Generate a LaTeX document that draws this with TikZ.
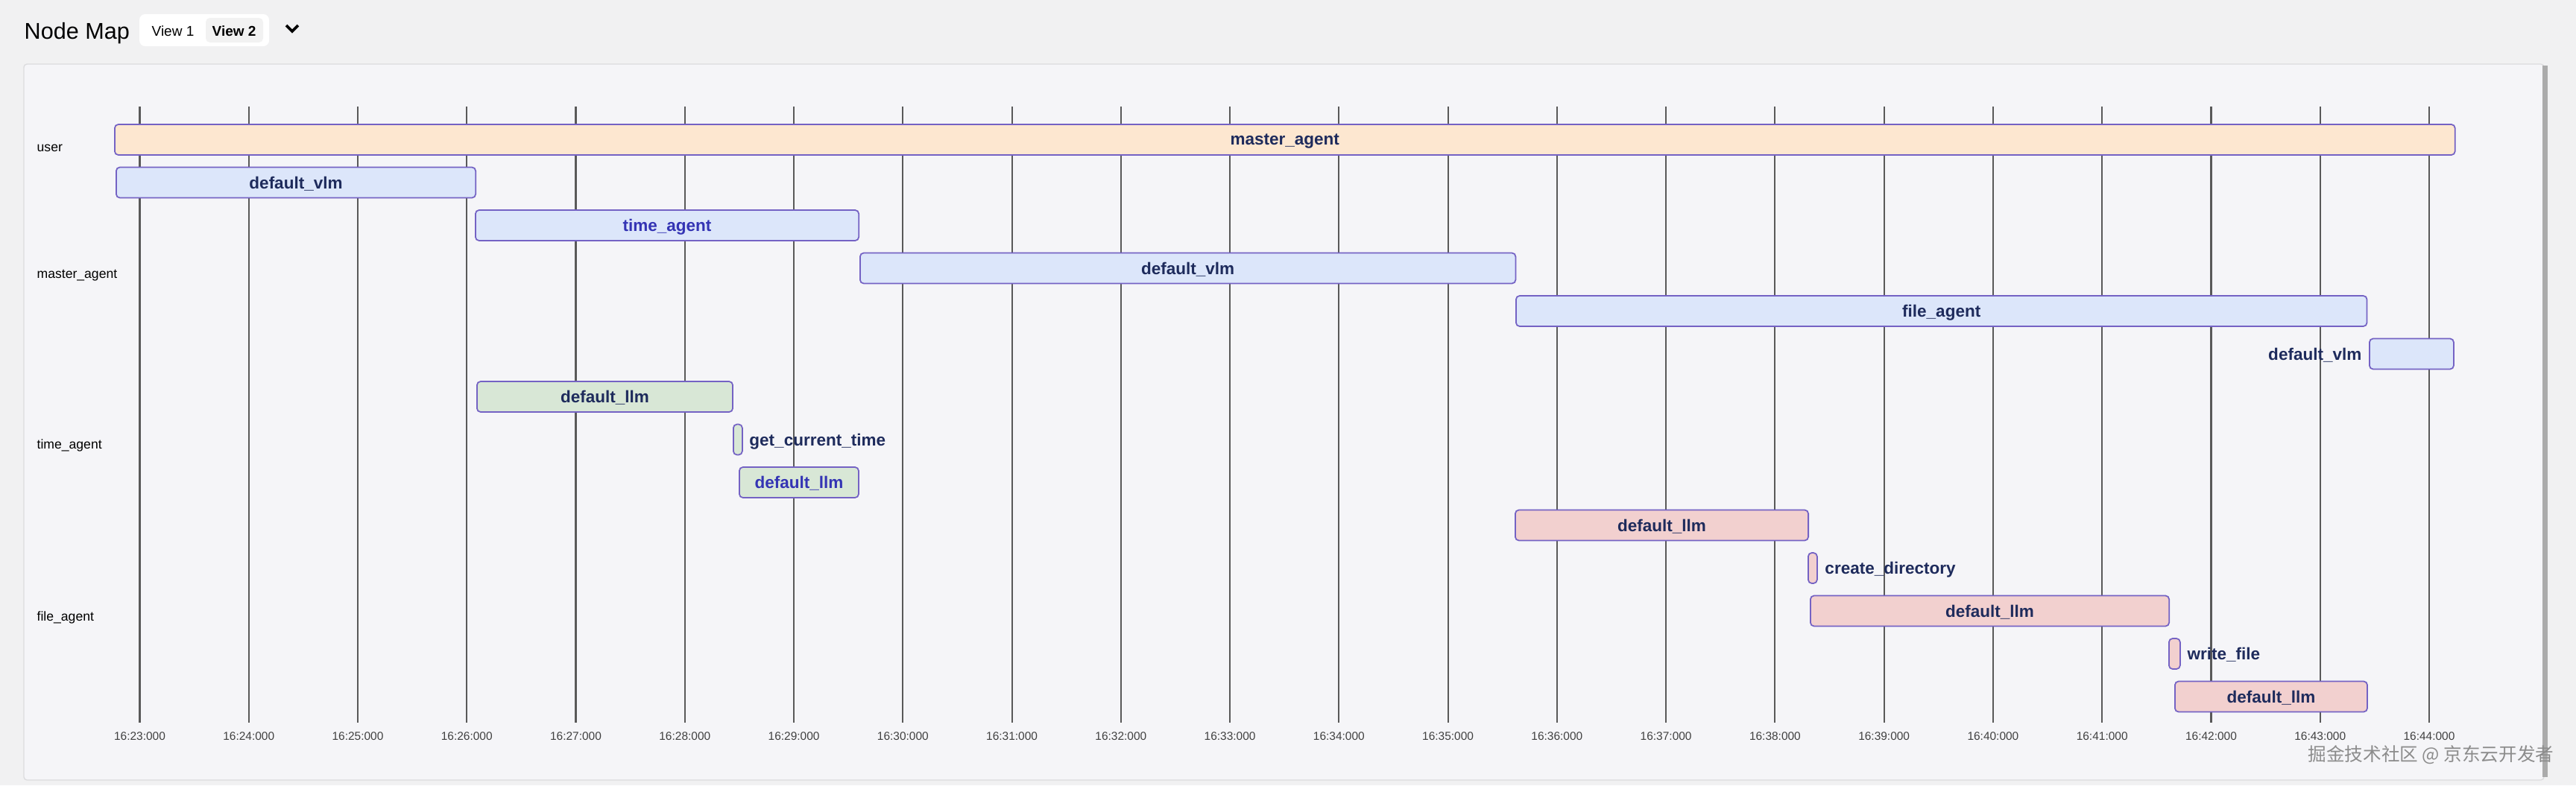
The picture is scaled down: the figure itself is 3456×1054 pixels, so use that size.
\documentclass[tikz,border=0pt]{standalone}
\usepackage{fontspec}
\setmainfont{Liberation Sans}
\newfontfamily\cjkfont{Noto Sans CJK SC}
\usetikzlibrary{positioning}

\definecolor{pagebg}{HTML}{F1F1F2}
\definecolor{panelbg}{HTML}{F5F5F8}
\definecolor{panelline}{HTML}{DCDCDE}
\definecolor{barline}{HTML}{7462C4}
\definecolor{navytext}{HTML}{1E2B5C}
\definecolor{calltext}{HTML}{3434B4}
\definecolor{userfill}{HTML}{FDE7D0}
\definecolor{masterfill}{HTML}{DCE6FA}
\definecolor{timefill}{HTML}{D8E7D6}
\definecolor{filefill}{HTML}{F2D0CF}

\begin{document}
\begin{tikzpicture} [x=0.01cm, y=-0.01cm,
        bar/.style={draw=barline, line width=0.5pt, rounded corners=1.4pt, minimum height=0.41cm,
            inner sep=0pt, anchor=west, text=navytext, text depth=0pt, font=\fontsize{6.4}{7}\selectfont\bfseries},
        fromuser/.style={bar, fill=userfill},
        frommaster/.style={bar, fill=masterfill},
        fromtime/.style={bar, fill=timefill},
        fromfile/.style={bar, fill=filefill},
        sidelabel/.style={inner sep=0pt, text=navytext, text depth=0pt, font=\fontsize{6.4}{7}\selectfont\bfseries},
        rowlabel/.style={anchor=base west, inner sep=0pt, font=\fontsize{5}{6}\selectfont},
        ticklabel/.style={anchor=base, inner sep=0pt, text=black!75, font=\fontsize{4.4}{5}\selectfont},
        tab/.style={anchor=base west, inner sep=0pt, font=\fontsize{5.4}{6}\selectfont},
        gridline/.style={black!65, line width=0.6pt}]
        \useasboundingbox [fill=pagebg] (0,0) rectangle (3456,1054);

        \draw [panelline, fill=panelbg, rounded corners=1.2pt] (32,86) rectangle (3413,1047);
        \fill [black!33] (3411,88) rectangle (3418,1043);

        \node (title) [anchor=base west, inner sep=0pt, font=\fontsize{8.7}{10}\selectfont] at (32,52) {Node Map};
        \fill [white, rounded corners=2.2pt] (187,19) rectangle (361,62);
        \fill [black!5, rounded corners=1.6pt] (276,24) rectangle (353,57);
        \node (view1) [tab] at (203,48) {View 1};
        \node (view2) [tab, font=\fontsize{5.4}{6}\selectfont\bfseries] at (284,48) {View 2};
        \draw [line width=1.1pt] (384,34) -- (392,42) -- (400,34);

        \foreach \m [count=\k from 0] in {23,...,44} {
            \coordinate (g\m) at ({187.5+146.26*\k},143);
            \coordinate (h\m) at ({187.5+146.26*\k},970);
            \draw [gridline] (g\m) -- (h\m);
            \node (t\m) [ticklabel] at ({187.5+146.26*\k},993) {16:\m:000};
        }

        \node (user) [rowlabel] at (49,203) {user};
        \node (master) [rowlabel] at (49,373) {master\_agent};
        \node (time) [rowlabel] at (49,602) {time\_agent};
        \node (file) [rowlabel] at (49,833) {file\_agent};

        \node (ma) [fromuser, minimum width=31.38cm] at (153,187.5) {master\_agent};
        \node (vlm1) [frommaster, minimum width=4.82cm] at (155,245) {default\_vlm};
        \node (ta) [frommaster, minimum width=5.14cm, text=calltext] at (637,302.5) {time\_agent};
        \node (vlm2) [frommaster, minimum width=8.79cm] at (1153,360) {default\_vlm};
        \node (fa) [frommaster, minimum width=11.41cm] at (2033,417.5) {file\_agent};
        \node (vlm3) [frommaster, minimum width=1.13cm] at (3178,475) {};
        \node (vlm3l) [sidelabel, left=0.09cm of vlm3] {default\_vlm};

        \node (llm1) [fromtime, minimum width=3.43cm] at (639,532.5) {default\_llm};
        \node (gct) [fromtime, minimum width=0.12cm] at (983,590) {};
        \node (gctl) [sidelabel, right=0.08cm of gct] {get\_current\_time};
        \node (llm2) [fromtime, minimum width=1.60cm, text=calltext] at (991,647.5) {default\_llm};

        \node (llm3) [fromfile, minimum width=3.93cm] at (2032,705) {default\_llm};
        \node (cd) [fromfile, minimum width=0.12cm] at (2425,762.5) {};
        \node (cdl) [sidelabel, right=0.09cm of cd] {create\_directory};
        \node (llm4) [fromfile, minimum width=4.81cm] at (2428,820) {default\_llm};
        \node (wf) [fromfile, minimum width=0.15cm] at (2909,877.5) {};
        \node (wfl) [sidelabel, right=0.08cm of wf] {write\_file};
        \node (llm5) [fromfile, minimum width=2.58cm] at (2917,935) {default\_llm};

        \node (mark) [anchor=east, inner sep=0pt, text=black!45, font=\cjkfont\fontsize{7.0}{9}\selectfont] at (3427,1013) {掘金技术社区 @ 京东云开发者};

    \end{tikzpicture}
\end{document}
